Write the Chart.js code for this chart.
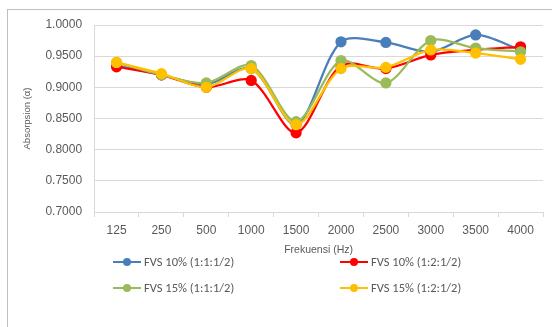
<!DOCTYPE html>
<html>
<head>
<meta charset="utf-8">
<script src="https://cdn.jsdelivr.net/npm/chart.js@4"></script>
<style>
  body { margin: 0; background: #fff; font-family: Calibri, Carlito, "Liberation Sans", Arial, sans-serif; }
  #wrap { position: relative; width: 552px; height: 327px; }
  #frame { position: absolute; left: 7px; top: 9px; width: 560px; height: 330px; border-left: 1px solid #bfbfbf; border-top: 1px solid #bfbfbf; }
  .leg { position: absolute; font-size: 12.5px; color: #595959; display: flex; align-items: center; white-space: nowrap; }
  .leg .ln { position: relative; width: 28px; height: 2px; margin-right: 3px; }
  .leg .ln i { position: absolute; left: 10px; top: -3px; width: 8px; height: 8px; border-radius: 50%; }
</style>
</head>
<body>
<div id="wrap">
  <div id="frame"></div>
  <canvas id="absorpChart" width="552" height="327"></canvas>
  <div id="legend"></div>
</div>
<script>
const frequencies = ['125', '250', '500', '1000', '1500', '2000', '2500', '3000', '3500', '4000'];
const seriesNames = ['FVS 10% (1:1:1/2)', 'FVS 10% (1:2:1/2)', 'FVS 15% (1:1:1/2)', 'FVS 15% (1:2:1/2)'];
const fvs10a = [0.935, 0.920, 0.905, 0.930, 0.840, 0.973, 0.972, 0.957, 0.984, 0.960];
const fvs10b = [0.933, 0.920, 0.900, 0.911, 0.827, 0.935, 0.930, 0.952, 0.960, 0.965];
const fvs15a = [0.940, 0.920, 0.907, 0.935, 0.845, 0.943, 0.907, 0.975, 0.963, 0.957];
const fvs15b = [0.940, 0.922, 0.900, 0.930, 0.840, 0.930, 0.932, 0.960, 0.955, 0.945];
const colors = ['#4a7ebb', '#ff0000', '#9bbb59', '#ffc000'];

const allSeries = [fvs10a, fvs10b, fvs15a, fvs15b];

const legendPos = [[113, 254], [340, 254], [113, 280], [340, 280]];
const legendEl = document.getElementById('legend');
seriesNames.forEach((name, i) => {
    const d = document.createElement('div');
    d.className = 'leg';
    d.style.left = legendPos[i][0] + 'px';
    d.style.top = legendPos[i][1] + 'px';
    d.innerHTML = '<span class="ln" style="background:' + colors[i] + '"><i style="background:' + colors[i] + '"></i></span>' + name;
    legendEl.appendChild(d);
});

new Chart(document.getElementById('absorpChart'), {
    type: 'line',
    data: {
        labels: frequencies,
        datasets: allSeries.map((vals, i) => ({
            label: seriesNames[i],
            data: vals,
            borderColor: colors[i],
            backgroundColor: colors[i],
            borderWidth: 2.25,
            pointRadius: 4.5,
            pointHoverRadius: 4.5,
            tension: 0.3,
            order: 4 - i
        }))
    },
    options: {
        responsive: false,
        animation: false,
        layout: { padding: { left: 22, top: 25, right: 9, bottom: 67 } },
        plugins: { legend: { display: false }, tooltip: { enabled: false } },
        scales: {
            x: {
                offset: true,
                grid: { display: true, drawOnChartArea: false, offset: true, tickLength: 5, color: '#d9d9d9' },
                border: { color: '#d9d9d9' },
                ticks: { color: '#595959', font: { size: 12 }, padding: 6 },
                title: { display: true, text: 'Frekuensi (Hz)', color: '#595959', font: { size: 10.5 }, padding: { top: 0 } }
            },
            y: {
                min: 0.7,
                max: 1.0,
                grid: { color: '#d9d9d9', drawTicks: false },
                border: { color: '#d9d9d9' },
                ticks: { stepSize: 0.05, color: '#595959', font: { size: 12 }, padding: 12,
                         callback: v => v.toFixed(4) },
                title: { display: true, text: 'Absorpsion (α)', color: '#595959', font: { size: 9.5 }, padding: { top: 0, bottom: 0 } }
            }
        }
    }
});
</script>
</body>
</html>
